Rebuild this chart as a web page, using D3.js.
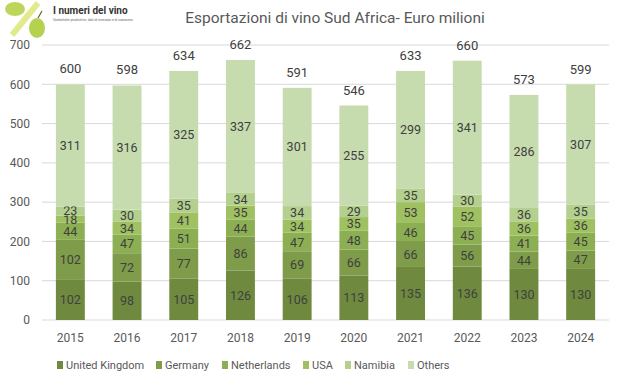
<!DOCTYPE html>
<html>
<head>
<meta charset="utf-8">
<script src="https://cdn.jsdelivr.net/npm/d3@7"></script>
<style>
  body { margin: 0; background: #fff; }
  text { font-family: Roboto, "Liberation Sans", sans-serif; }
</style>
</head>
<body>
<div id="chart"></div>
<script>
// Data
const years = ["2015", "2016", "2017", "2018", "2019", "2020", "2021", "2022", "2023", "2024"];
const unitedKingdom = [102, 98, 105, 126, 106, 113, 135, 136, 130, 130];
const germany = [102, 72, 77, 86, 69, 66, 66, 56, 44, 47];
const netherlands = [44, 47, 51, 44, 47, 48, 46, 45, 41, 45];
const usa = [18, 34, 41, 35, 34, 35, 53, 52, 36, 36];
const namibia = [23, 30, 35, 34, 34, 29, 35, 30, 36, 35];
const others = [311, 316, 325, 337, 301, 255, 299, 341, 286, 307];
const totals = [600, 598, 634, 662, 591, 546, 633, 660, 573, 599];
const yTicks = [0, 100, 200, 300, 400, 500, 600, 700];

const seriesNames = ["United Kingdom", "Germany", "Netherlands", "USA", "Namibia", "Others"];
const seriesValues = [unitedKingdom, germany, netherlands, usa, namibia, others];
const colors = ["#6f8a3f", "#7e9c49", "#8daf54", "#9fc161", "#b4d08e", "#c7dcae"];

const W = 620, H = 386;
const margin = { top: 45, right: 11, bottom: 66, left: 42 };
const width = W - margin.left - margin.right;
const height = H - margin.top - margin.bottom;

const svg = d3.select("#chart").append("svg")
  .attr("width", W)
  .attr("height", H);

// Build rows for d3.stack
const rows = years.map((y, i) => {
  const r = { year: y };
  seriesNames.forEach((s, k) => r[s] = seriesValues[k][i]);
  return r;
});
const stacked = d3.stack().keys(seriesNames)(rows);

const x = d3.scaleBand().domain(years).range([0, width]).paddingInner(0.49).paddingOuter(0.245);
const y = d3.scaleLinear().domain([0, 700]).range([height, 0]);

const g = svg.append("g").attr("transform", `translate(${margin.left},${margin.top})`);

// Gridlines
g.selectAll(".grid").data(yTicks).enter().append("line")
  .attr("x1", 0).attr("x2", width)
  .attr("y1", d => y(d)).attr("y2", d => y(d))
  .attr("stroke", "#d9d9d9").attr("stroke-width", 1);

// Y axis labels
const yAxis = g.append("g").call(d3.axisLeft(y).tickValues(yTicks).tickSize(0).tickPadding(12));
yAxis.select(".domain").remove();
yAxis.selectAll("text").attr("fill", "#595959").attr("font-size", 12);

// X axis labels
const xAxis = g.append("g").attr("transform", `translate(0,${height})`)
  .call(d3.axisBottom(x).tickSize(0).tickPadding(13));
xAxis.select(".domain").remove();
xAxis.selectAll("text").attr("fill", "#595959").attr("font-size", 12);

// Bars
const layer = g.selectAll(".layer").data(stacked).enter().append("g")
  .attr("fill", (d, i) => colors[i]);
layer.selectAll("rect").data(d => d).enter().append("rect")
  .attr("x", d => x(d.data.year))
  .attr("y", d => y(d[1]))
  .attr("width", x.bandwidth())
  .attr("height", d => y(d[0]) - y(d[1]));

// Segment labels
layer.selectAll("text").data(d => d).enter().append("text")
  .attr("x", d => x(d.data.year) + x.bandwidth() / 2)
  .attr("y", d => (y(d[0]) + y(d[1])) / 2)
  .attr("dy", "0.36em")
  .attr("text-anchor", "middle")
  .attr("font-size", 12.5)
  .attr("fill", "#404040")
  .text(d => d[1] - d[0]);

// Totals above bars
g.selectAll(".total").data(years).enter().append("text")
  .attr("x", d => x(d) + x.bandwidth() / 2)
  .attr("y", (d, i) => y(totals[i]) - 11)
  .attr("text-anchor", "middle")
  .attr("font-size", 13)
  .attr("fill", "#404040")
  .text((d, i) => totals[i]);

// Title
svg.append("text")
  .attr("x", 335).attr("y", 23)
  .attr("text-anchor", "middle")
  .attr("font-size", 15.5)
  .attr("fill", "#595959")
  .text("Esportazioni di vino Sud Africa- Euro milioni");

// Logo (simple approximation)
const logo = svg.append("g");
logo.append("line").attr("x1", 12).attr("y1", 35).attr("x2", 38).attr("y2", 3)
  .attr("stroke", "#e3ea8e").attr("stroke-width", 6);
logo.append("ellipse").attr("cx", 15).attr("cy", 9).attr("rx", 10).attr("ry", 7).attr("fill", "#bcd65c");
logo.append("ellipse").attr("cx", 37).attr("cy", 28).attr("rx", 8).attr("ry", 10).attr("fill", "#b4d150");
logo.append("line").attr("x1", 38).attr("y1", 18).attr("x2", 42).attr("y2", 11)
  .attr("stroke", "#6b5a2a").attr("stroke-width", 1.2);
logo.append("text").attr("x", 53).attr("y", 14)
  .attr("font-size", 10).attr("font-weight", "bold").attr("fill", "#333")
  .text("I numeri del vino");
logo.append("text").attr("x", 53).attr("y", 21)
  .attr("font-size", 3.5).attr("fill", "#666")
  .text("Statistiche produttive, dati di mercato e di consumo");

// Legend
const legendX = [57, 156, 222, 303, 345, 408];
const legend = svg.append("g").attr("transform", "translate(0,365)");
const item = legend.selectAll(".item").data(seriesNames).enter().append("g")
  .attr("transform", (d, i) => `translate(${legendX[i]},0)`);
item.append("rect").attr("x", 0).attr("y", -4).attr("width", 6).attr("height", 8)
  .attr("fill", (d, i) => colors[i]);
item.append("text").attr("x", 9).attr("y", 0).attr("dy", "0.35em")
  .attr("font-size", 11).attr("fill", "#595959")
  .text(d => d);
</script>
</body>
</html>
